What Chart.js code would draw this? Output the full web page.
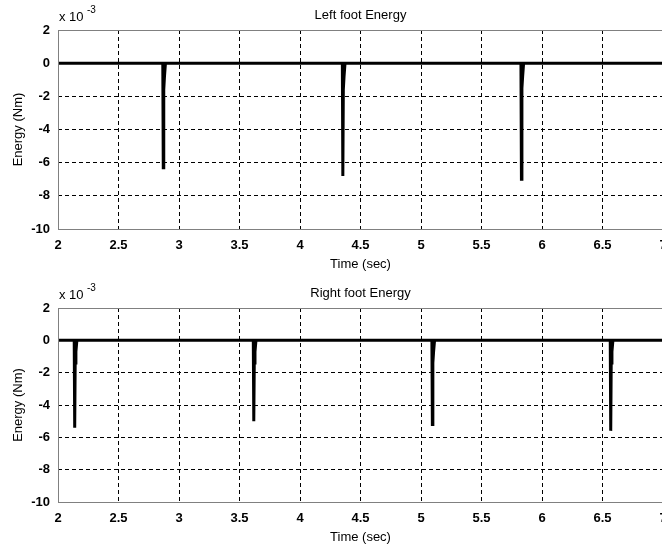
<!DOCTYPE html>
<html>
<head>
<meta charset="utf-8">
<script src="https://cdn.jsdelivr.net/npm/chart.js@4"></script>
<style>
  body { margin: 0; background: #fff; overflow: hidden; }
  .wrap { position: absolute; left: 0; width: 668px; }
  #w1 { top: 0; height: 273px; }
  #w2 { top: 278px; height: 268px; }
</style>
</head>
<body>
<div class="wrap" id="w1"><canvas id="c1" width="668" height="273"></canvas></div>
<div class="wrap" id="w2"><canvas id="c2" width="668" height="268"></canvas></div>
<script>
// values in units of 1e-3 Nm
const xTicks = [2, 2.5, 3, 3.5, 4, 4.5, 5, 5.5, 6, 6.5, 7];
const yTicks = [2, 0, -2, -4, -6, -8, -10];

const leftTime = [2, 2.866, 2.870, 2.874, 2.880, 2.888, 4.350, 4.354, 4.358, 4.364, 4.372, 5.826, 5.830, 5.834, 5.840, 5.848, 7];
const leftEnergy = [0, 0, -6.3, -1.6, -0.8, 0, 0, -6.8, -1.6, -0.8, 0, 0, -7.0, -1.5, -0.8, 0, 0];

const rightTime = [2, 2.134, 2.138, 2.142, 2.148, 2.156, 3.614, 3.618, 3.622, 3.628, 3.636, 5.090, 5.094, 5.098, 5.104, 5.112, 6.564, 6.568, 6.572, 6.578, 6.586, 7];
const rightEnergy = [0, 0, -5.4, -1.4, -0.7, 0, 0, -5.0, -1.4, -0.7, 0, 0, -5.2, -1.4, -0.7, 0, 0, -5.6, -1.4, -0.7, 0, 0];

const font = 'Liberation Sans, Arial, sans-serif';

const decor = {
  id: 'decor',
  afterDraw(chart, args, opts) {
    const ctx = chart.ctx;
    const a = chart.chartArea;
    ctx.save();
    ctx.strokeStyle = '#808080';
    ctx.lineWidth = 1;
    ctx.strokeRect(a.left + 0.5, a.top + 0.5, a.right - a.left, a.bottom - a.top);
    ctx.fillStyle = '#000';
    ctx.textAlign = 'center';
    ctx.textBaseline = 'middle';
    ctx.font = '13px ' + font;
    ctx.fillText(opts.title, (a.left + a.right) / 2, a.top - 15);
    ctx.fillText('Time (sec)', (a.left + a.right) / 2, a.bottom + 35);
    ctx.save();
    ctx.translate(18, (a.top + a.bottom) / 2);
    ctx.rotate(-Math.PI / 2);
    ctx.fillText('Energy (Nm)', 0, 0);
    ctx.restore();
    ctx.textAlign = 'left';
    ctx.font = '13px ' + font;
    ctx.fillText('x 10', a.left + 1, a.top - 13);
    ctx.font = '10px ' + font;
    ctx.fillText('-3', a.left + 29, a.top - 20);
    ctx.restore();
  }
};

function makeChart(id, title, xs, ys) {
  const ctx = document.getElementById(id).getContext('2d');
  return new Chart(ctx, {
    type: 'line',
    data: {
      datasets: [{
        data: xs.map((x, i) => ({ x: x, y: ys[i] })),
        borderColor: '#000',
        borderWidth: 3,
        pointRadius: 0,
        tension: 0,
        fill: false
      }]
    },
    options: {
      responsive: false,
      animation: false,
      layout: { padding: { top: 30, right: 5, left: 0, bottom: 0 } },
      plugins: { legend: { display: false }, tooltip: { enabled: false }, decor: { title: title } },
      scales: {
        x: {
          type: 'linear',
          min: 2, max: 7,
          afterBuildTicks: s => { s.ticks = xTicks.map(v => ({ value: v })); },
          afterFit: s => { s.height = 44; s.paddingRight = 0; s.paddingLeft = 0; },
          ticks: { color: '#000', font: { family: font, size: 13, weight: 'bold' }, padding: 9, maxRotation: 0, autoSkip: false,
            callback: v => String(v) },
          grid: { color: '#000', lineWidth: 1, drawTicks: false },
          border: { display: false, dash: [4, 3] }
        },
        y: {
          min: -10, max: 2,
          afterBuildTicks: s => { s.ticks = yTicks.map(v => ({ value: v })); },
          afterFit: s => { s.width = 58; },
          ticks: { color: '#000', font: { family: font, size: 13, weight: 'bold' }, padding: 8, autoSkip: false,
            callback: v => String(v) },
          grid: { color: '#000', lineWidth: 1, drawTicks: false },
          border: { display: false, dash: [4, 3] }
        }
      }
    },
    plugins: [decor]
  });
}

const c1 = makeChart('c1', 'Left foot Energy', leftTime, leftEnergy);
const c2 = makeChart('c2', 'Right foot Energy', rightTime, rightEnergy);
</script>
</body>
</html>
